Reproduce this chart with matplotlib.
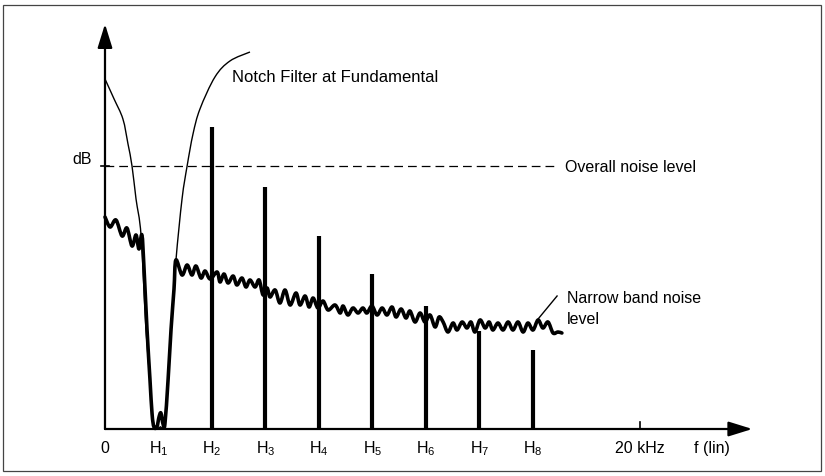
## plot.py
## harmonic distortion measurement with a notch filter at the fundamental
## frequency axis in kHz (fundamental = 2 kHz), level axis in arbitrary dB units

import matplotlib.pyplot as plt
from matplotlib.patches import Rectangle, PathPatch
from matplotlib.path import Path

plt.rcParams['font.family'] = ['Liberation Sans', 'DejaVu Sans']
plt.rcParams['mathtext.default'] = 'regular'

# harmonics H2..H8 (kHz) and their levels
harm_freq = [4, 6, 8, 10, 12, 14, 16]
harm_level = [75.5, 60.5, 48.25, 38.75, 30.75, 24.5, 19.75]

# tick labels along the frequency axis
tick_freq = [0, 2, 4, 6, 8, 10, 12, 14, 16, 20]
tick_text = ['0', 'H$_1$', 'H$_2$', 'H$_3$', 'H$_4$', 'H$_5$', 'H$_6$', 'H$_7$', 'H$_8$', '20 kHz']

overall_noise = 65.75

# response of the notch filter tuned to the fundamental
notch_freq = [0, 0.34, 0.67, 0.86, 1.01, 1.16, 1.35, 1.53, 1.68, 1.79, 1.91,
              2.06, 2.24, 2.47, 2.65, 2.88, 3.07, 3.29, 3.55, 4.11, 4.67, 5.42]
notch_level = [87.5, 82.5, 77.5, 71.25, 65.75, 57.5, 48.25, 25.0, 12.5, 2.5, 0.5,
               0.5, 2.5, 25.0, 42.0, 57.5, 65.75, 73.75, 80.0, 88.0, 92.0, 94.25]

# narrow band noise (peaks and troughs)
noise_freq = [0.00, 0.19, 0.41, 0.64, 0.82, 1.01, 1.16, 1.27, 1.38, 1.46, 1.57,
              1.68, 1.76, 1.83, 1.94, 2.02, 2.09, 2.17, 2.24, 2.36, 2.47, 2.58,
              2.65, 2.88, 3.07, 3.25, 3.40, 3.59, 3.74, 3.93, 4.19, 4.30, 4.45,
              4.60, 4.79, 4.93, 5.12, 5.27, 5.42, 5.61, 5.76, 5.91, 6.06, 6.17,
              6.36, 6.54, 6.73, 6.92, 7.14, 7.29, 7.48, 7.63, 7.78, 7.96, 8.15,
              8.34, 8.60, 8.79, 8.90, 9.08, 9.27, 9.46, 9.64, 9.79, 9.98, 10.17,
              10.36, 10.54, 10.73, 10.88, 11.07, 11.25, 11.40, 11.59, 11.78,
              11.96, 12.15, 12.34, 12.49, 12.64, 12.82, 13.01, 13.16, 13.35,
              13.53, 13.68, 13.83, 14.02, 14.21, 14.36, 14.50, 14.69, 14.88,
              15.07, 15.25, 15.44, 15.63, 15.81, 16.00, 16.19, 16.37, 16.56,
              16.75, 16.93, 17.08]
noise_level = [53.0, 50.5, 52.25, 48.25, 50.25, 45.75, 48.5, 45.0, 48.5, 40.0, 25.0,
               12.5, 3.75, 0.5, 0.5, 3.0, 4.0, 1.25, 1.25, 12.5, 25.0, 35.0,
               42.25, 38.5, 41.0, 38.5, 40.75, 37.75, 39.5, 37.5, 39.25, 36.75, 38.75,
               36.5, 38.25, 36.0, 37.75, 35.5, 37.25, 35.5, 37.25, 33.5, 35.25, 33.0,
               34.75, 31.5, 34.75, 31.0, 34.0, 31.0, 33.25, 30.5, 32.75, 30.25, 32.0,
               29.75, 31.0, 29.0, 30.75, 28.5, 30.25, 29.0, 30.25, 29.0, 30.75, 28.5,
               30.25, 28.5, 30.5, 28.0, 30.0, 27.75, 29.5, 26.75, 29.0,
               26.75, 28.5, 25.5, 28.0, 26.75, 24.25, 26.5, 24.75, 26.75,
               25.25, 26.75, 24.25, 27.25, 25.25, 26.75, 24.75, 26.5, 24.75,
               26.75, 24.75, 26.75, 24.25, 26.5, 24.75, 27.25, 25.25, 26.75,
               24.0, 24.25, 24.0]


def smooth_path(xs, ys):
    # Catmull-Rom spline through the read points, drawn as cubic Bezier pieces
    pts = list(zip(xs, ys))
    pts = [pts[0]] + pts + [pts[-1]]
    verts = [pts[1]]
    codes = [Path.MOVETO]
    for i in range(1, len(pts) - 2):
        p0, p1, p2, p3 = pts[i - 1], pts[i], pts[i + 1], pts[i + 2]
        c1 = (p1[0] + (p2[0] - p0[0]) / 6, p1[1] + (p2[1] - p0[1]) / 6)
        c2 = (p2[0] - (p3[0] - p1[0]) / 6, p2[1] - (p3[1] - p1[1]) / 6)
        verts += [c1, c2, p2]
        codes += [Path.CURVE4] * 3
    return Path(verts, codes)


fig = plt.figure(figsize=(8.25, 4.77), dpi=100)
ax = fig.add_axes([0, 0, 1, 1])
ax.set_xlim(-3.925, 26.916)
ax.set_ylim(-11.75, 107.5)
ax.axis('off')

# frame round the whole picture
fig.patches.append(Rectangle((0.004, 0.01), 0.991, 0.978, transform=fig.transFigure,
                             fill=False, edgecolor='#444444', linewidth=0.9))

# axes with arrow heads
arrow = dict(arrowstyle='-|>,head_length=1.45,head_width=0.45', mutation_scale=10,
             color='black', linewidth=1.6, shrinkA=0, shrinkB=0)
ax.annotate('', xy=(0, 101.25), xytext=(0, 0), arrowprops=arrow)
ax.annotate('', xy=(24.2, 0), xytext=(0, 0), arrowprops=arrow)

# small tick marks: 20 kHz and the dB mark on the level axis
ax.plot([20, 20], [0, 1.75], color='black', linewidth=1.2)
ax.plot([-0.15, 0.15], [overall_noise, overall_noise], color='black', linewidth=1.2)

# overall noise level
ax.plot([0, 16.8], [overall_noise, overall_noise], color='black', linewidth=0.9,
        dashes=(7, 4))

# notch filter response (thin) and narrow band noise (thick)
ax.add_patch(PathPatch(smooth_path(notch_freq, notch_level), fill=False,
                       edgecolor='black', linewidth=1.0))
ax.add_patch(PathPatch(smooth_path(noise_freq, noise_level), fill=False,
                       edgecolor='black', linewidth=2.6, joinstyle='round',
                       capstyle='round'))

# harmonics
ax.vlines(harm_freq, 0, harm_level, color='black', linewidth=3.0)

# labels
for f, t in zip(tick_freq, tick_text):
    ax.text(f, -4.6, t, ha='center', va='center', fontsize=11.5)
ax.text(22.7, -4.6, 'f (lin)', ha='center', va='center', fontsize=11.5)
ax.text(-0.85, 67.5, 'dB', ha='center', va='center', fontsize=11.5)
ax.text(4.75, 88.25, 'Notch Filter at Fundamental', ha='left', va='center', fontsize=12)
ax.text(17.2, 65.5, 'Overall noise level', ha='left', va='center', fontsize=11.5)
ax.text(17.27, 30.25, 'Narrow band noise\nlevel', ha='left', va='center', fontsize=11.5,
        linespacing=1.45)
ax.plot([16.19, 16.9], [27.5, 33.25], color='black', linewidth=1.0)

plt.savefig('out.png', dpi=100)
